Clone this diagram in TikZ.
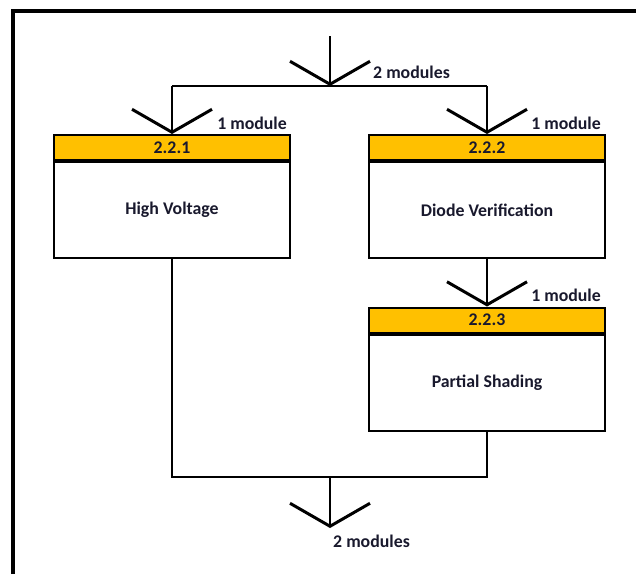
\documentclass[tikz,border=0pt]{standalone}
\usepackage{fontspec}
\setmainfont{Carlito}
\usetikzlibrary{arrows.meta}
\definecolor{headgold}{RGB}{255,192,0}
\definecolor{inkdark}{RGB}{25,25,45}

\begin{document}
\begin{tikzpicture}[x=1pt, y=-1pt, % 按像素取坐标, y 轴向下
		txt/.style={font=\fontsize{17.8}{19}\selectfont\bfseries, text=inkdark},
		box/.style={txt, draw, line width=2pt, minimum width=236pt, inner sep=0pt},
		head/.style={box, fill=headgold, minimum height=25pt},
		body/.style={box, fill=white, minimum height=96pt},
		conn/.style={line width=2.5pt},
		feed/.style={conn, -{Straight Barb[length=23pt, width=80pt, line width=3pt]}},
		lbl/.style={txt, inner sep=0pt}]
		\useasboundingbox (0, 0) rectangle (636, 574);
		% 外框
		\draw[line width=4pt] (13, 574) -- (13, 11) -- (636, 11);
		% 三个测试模块
		\node[head] (h1) at (172, 147.5) {2.2.1};
		\node[body, anchor=north] (b1) at (h1.south) {High Voltage};
		\node[head] (h2) at (487, 147.5) {2.2.2};
		\node[body, anchor=north] (b2) at (h2.south) {Diode Verification};
		\node[head] (h3) at (487, 320) {2.2.3};
		\node[body, anchor=north] (b3) at (h3.south) {Partial Shading};
		% 进入与分流
		\coordinate (src) at (330, 36);
		\coordinate (split) at (330, 86);
		\draw[feed] (src) -- (split);
		\draw[conn] (h1.north |- split) -- (h2.north |- split);
		\draw[feed] (h1.north |- split) -- (h1.north);
		\draw[feed] (h2.north |- split) -- (h2.north);
		\draw[feed] (b2.south) -- (h3.north);
		% 汇合与输出
		\coordinate (merge) at (330, 477);
		\coordinate (sink) at (330, 528);
		\draw[conn] (b1.south) |- (merge) -| (b3.south);
		\draw[feed] (merge) -- (sink);
		% 模块数量
		\node[lbl, anchor=base west] (m0) at (373, 78.5) {2 modules};
		\node[lbl, anchor=base east] (m1) at (287, 129.5) {1 module};
		\node[lbl, anchor=base east] (m2) at (601, 129.5) {1 module};
		\node[lbl, anchor=base east] (m3) at (601, 301.5) {1 module};
		\node[lbl, anchor=base west] (m4) at (333, 547.5) {2 modules};
	\end{tikzpicture}
\end{document}
